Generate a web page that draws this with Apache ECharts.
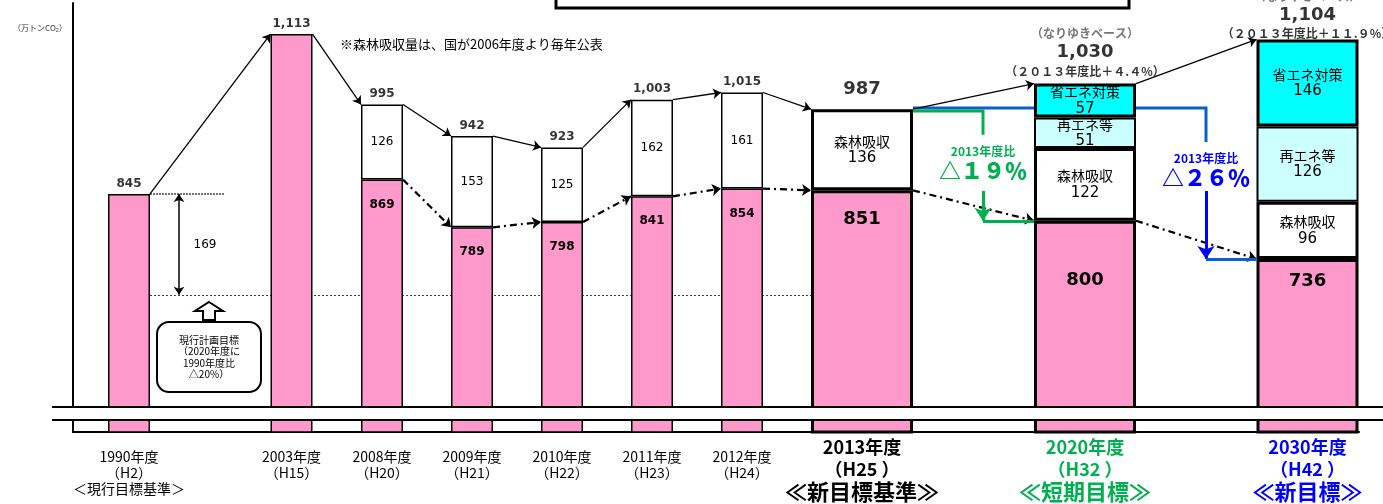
<!DOCTYPE html>
<html>
<head>
<meta charset="utf-8">
<title>温室効果ガス排出量</title>
<script src="https://cdn.jsdelivr.net/npm/echarts@6/dist/echarts.min.js"></script>
<style>
  html, body { margin: 0; padding: 0; background: #fff; }
  #chart { width: 1383px; height: 504px; }
</style>
</head>
<body>
<div id="chart"></div>
<script>
// 年度ラベル
const years = ['1990年度', '2003年度', '2008年度', '2009年度', '2010年度', '2011年度', '2012年度', '2013年度', '2020年度', '2030年度'];
const heisei = ['（H2）', '（H15）', '（H20）', '（H21）', '（H22）', '（H23）', '（H24）', '（H25 ）', '（H32 ）', '（H42 ）'];
const notes = ['＜現行目標基準＞', '', '', '', '', '', '', '≪新目標基準≫', '≪短期目標≫', '≪新目標≫'];

// 万トンCO2
const emission = [845, 1113, 869, 789, 798, 841, 854, 851, 800, 736];
const forest = [null, null, 126, 153, 125, 162, 161, 136, 122, 96];
const renewable = [null, null, null, null, null, null, null, null, 51, 126];
const saving = [null, null, null, null, null, null, null, null, 57, 146];
const target2020 = 676; // 現行計画目標（1990年度比△20%）
const pctLabels = ['＋４.４%', '＋１１.９%'];
const cutLabels = ['△１９％', '△２６％'];

// レイアウト（x軸は px 単位）
const slotX = [129, 291.5, 382, 472, 562, 652, 742, 862, 1085, 1307.5];
const wideFrom = 7;
const narrowW = 42, wideW = 102;
const pinkGap = [0, 0, 19, 19, 19, 19, 19, 20, 51, 13];

const JP = '"Noto Sans CJK JP", sans-serif';
const NUM = '"DejaVu Sans", "Noto Sans CJK JP", sans-serif';
const PINK = '#ff99cc', CYAN = '#00ffff', LCYAN = '#ccffff';
const GREEN = '#00b050', BLUE = '#0000ff';

const chart = echarts.init(document.getElementById('chart'));

const halfW = i => (i < wideFrom ? narrowW : wideW) / 2;
const edgeR = i => slotX[i] + halfW(i);
const edgeL = i => slotX[i] - halfW(i);
const total = i => emission[i] + (forest[i] || 0) + (renewable[i] || 0) + (saving[i] || 0);
const fmt = v => v.toLocaleString('en-US');
const narrowIdx = slotX.map((x, i) => i).filter(i => i < wideFrom);
const wideIdx = slotX.map((x, i) => i).filter(i => i >= wideFrom);

// 積み上げは値の次元で行うため [値, x位置] の順に並べる
function pinkData(idxs) {
  return idxs.map(i => ({
    value: [emission[i], slotX[i]],
    label: forest[i] == null ? { show: false } : {
      show: true, position: 'insideTop', distance: pinkGap[i],
      formatter: String(emission[i]),
      fontFamily: NUM, fontWeight: 'bold', color: '#000',
      fontSize: i < wideFrom ? 12 : 18
    }
  }));
}

function layerData(idxs, values, title) {
  return idxs.map(i => ({
    value: [values[i], slotX[i]],
    label: {
      show: values[i] != null, position: 'inside', color: '#000',
      formatter: i < wideFrom ? String(values[i]) : '{t|' + title + '}\n{v|' + values[i] + '}',
      fontFamily: NUM, fontSize: 12,
      rich: {
        t: { fontFamily: JP, fontSize: 14, lineHeight: 17, color: '#000' },
        v: { fontFamily: NUM, fontSize: 15, lineHeight: 17, color: '#000' }
      }
    }
  }));
}

const totalsData = slotX.map((x, i) => {
  const t = total(i);
  let label;
  if (i < wideFrom) {
    label = { formatter: fmt(t), fontSize: 12, distance: 4 };
  } else if (i === wideFrom) {
    label = { formatter: fmt(t), fontSize: 18, distance: 10 };
  } else {
    label = {
      formatter: '{nr|（なりゆきベース）}\n{tb|' + fmt(t) + '}\n{ts|（２０１３年度比' + pctLabels[i - wideFrom - 1] + '）}',
      distance: i === wideFrom + 1 ? 3 : -4
    };
  }
  return { value: [x, t], label: label };
});

const totalLinks = [];
for (let i = 0; i < slotX.length - 1; i++) {
  totalLinks.push({ coords: [[edgeR(i), total(i)], [edgeL(i + 1), total(i + 1)]] });
}
const netLinks = [];
for (let i = 2; i < slotX.length - 1; i++) {
  netLinks.push({ coords: [[edgeR(i), emission[i]], [edgeL(i + 1), emission[i + 1]]] });
}

// 削減率の矢印（x は px、縦の切れ目は値）
const base = total(wideFrom);
const xG = 983, gTop = 944, gBot = 850;
const xB = 1206, bTop = 932, bBot = 850;

function lineSeries(data, color, width, opts) {
  return Object.assign({
    type: 'lines', coordinateSystem: 'cartesian2d', xAxisIndex: 0, yAxisIndex: 0,
    data: data, symbol: 'none', silent: true,
    lineStyle: { color: color, width: width, opacity: 1, curveness: 0 }
  }, opts || {});
}

function barSeries(name, stack, axis, width, fill, border, data) {
  return {
    name: name, type: 'bar', stack: stack, xAxisIndex: axis, barWidth: width,
    encode: { x: 1, y: 0 },
    itemStyle: { color: fill, borderColor: '#000', borderWidth: border },
    data: data
  };
}

chart.setOption({
  animation: false,
  grid: { left: 73, right: 24, top: 3, bottom: 72, outerBoundsMode: 'none' },
  xAxis: [{
    type: 'value', min: 73, max: 1359,
    axisLine: { show: true, onZero: false, lineStyle: { color: '#000', width: 2 } },
    axisTick: { show: false },
    splitLine: { show: false },
    axisLabel: {
      customValues: slotX, margin: 4, verticalAlign: 'top',
      formatter: function (value) {
        const i = slotX.findIndex(x => Math.abs(x - value) < 0.01);
        if (i < 0) return '';
        if (i < wideFrom) {
          return '{sp| }\n{n|' + years[i] + '}\n{n|' + heisei[i] + '}' + (notes[i] ? '\n{n|' + notes[i] + '}' : '');
        }
        const k = ['k', 'g', 'b'][i - wideFrom];
        return '{' + k + '|' + years[i] + '}\n{' + k + '|' + heisei[i] + '}\n{' + k + '2|' + notes[i] + '}';
      },
      rich: {
        sp: { fontSize: 10, lineHeight: 13 },
        n: { fontFamily: JP, fontSize: 14, lineHeight: 16, color: '#000' },
        k: { fontFamily: JP, fontSize: 18, fontWeight: 'bold', lineHeight: 22, color: '#000' },
        k2: { fontFamily: JP, fontSize: 22, fontWeight: 'bold', lineHeight: 23, color: '#000' },
        g: { fontFamily: JP, fontSize: 18, fontWeight: 'bold', lineHeight: 22, color: GREEN },
        g2: { fontFamily: JP, fontSize: 22, fontWeight: 'bold', lineHeight: 23, color: GREEN },
        b: { fontFamily: JP, fontSize: 18, fontWeight: 'bold', lineHeight: 22, color: BLUE },
        b2: { fontFamily: JP, fontSize: 22, fontWeight: 'bold', lineHeight: 23, color: BLUE }
      }
    }
  }, {
    type: 'value', min: 73, max: 1359, show: false
  }],
  yAxis: {
    type: 'value', min: 446, max: 1165,
    axisLine: { show: true, onZero: false, lineStyle: { color: '#000', width: 2 } },
    axisTick: { show: false },
    axisLabel: { show: false },
    splitLine: { show: false }
  },
  series: [
    barSeries('排出量', 'narrow', 0, narrowW, PINK, 1.5, pinkData(narrowIdx)),
    barSeries('森林吸収', 'narrow', 0, narrowW, '#fff', 1.5, layerData(narrowIdx, forest, '森林吸収')),
    barSeries('排出量', 'wide', 1, wideW, PINK, 3, pinkData(wideIdx)),
    barSeries('森林吸収', 'wide', 1, wideW, '#fff', 3, layerData(wideIdx, forest, '森林吸収')),
    barSeries('再エネ等', 'wide', 1, wideW, LCYAN, 2, layerData(wideIdx, renewable, '再エネ等')),
    barSeries('省エネ対策', 'wide', 1, wideW, CYAN, 3, layerData(wideIdx, saving, '省エネ対策')),
    {
      name: '合計', type: 'scatter', xAxisIndex: 0, symbolSize: 1, silent: true, z: 5,
      itemStyle: { color: 'rgba(0,0,0,0)' },
      label: {
        show: true, position: 'top', color: '#000', fontFamily: NUM, fontWeight: 'bold',
        rich: {
          nr: { fontFamily: JP, fontSize: 12, color: '#555', lineHeight: 19 },
          tb: { fontFamily: NUM, fontSize: 18, fontWeight: 'bold', color: '#000', lineHeight: 19 },
          ts: { fontFamily: JP, fontSize: 12, color: '#000', lineHeight: 18 }
        }
      },
      data: totalsData
    },
    // 目標ライン（バーの背面）
    lineSeries([{ coords: [[edgeR(0), target2020], [edgeL(7), target2020]] }], '#444', 1,
      { z: 1, lineStyle: { color: '#444', width: 1, type: [2, 2], opacity: 1 } }),
    lineSeries([{ coords: [[edgeR(0), emission[0]], [225, emission[0]]] }], '#444', 1,
      { z: 1, lineStyle: { color: '#444', width: 1.5, type: [2, 1], opacity: 1 } }),
    lineSeries([{ coords: [[179, emission[0]], [179, target2020]] }], '#000', 1.5,
      { z: 3, symbol: ['arrow', 'arrow'], symbolSize: 8 }),
    // 合計の推移
    lineSeries(totalLinks, '#000', 1.3, { z: 3, symbol: ['none', 'arrow'], symbolSize: 8 }),
    // 排出量の推移
    lineSeries(netLinks, '#000', 2.2,
      { z: 3, symbol: ['none', 'arrow'], symbolSize: 9, lineStyle: { color: '#000', width: 2.2, type: [7, 4, 2, 4], opacity: 1 } }),
    // 2013年度比（緑・青）
    lineSeries([{ coords: [[edgeR(7), base + 2], [xB, base + 2], [xB, bTop]] }], '#0a5fd0', 3, { z: 1, polyline: true }),
    lineSeries([{ coords: [[edgeR(7), base - 3], [xG, base - 3], [xG, gTop]] }], GREEN, 3, { z: 3, polyline: true }),
    lineSeries([{ coords: [[xG, gBot], [xG, emission[8]]] }], GREEN, 3, { z: 3, symbol: ['none', 'arrow'], symbolSize: 13 }),
    lineSeries([{ coords: [[xG, emission[8]], [edgeL(8), emission[8]]] }], GREEN, 3, { z: 3 }),
    lineSeries([{ coords: [[xB, bBot], [xB, emission[9]]] }], BLUE, 3, { z: 3, symbol: ['none', 'arrow'], symbolSize: 13 }),
    lineSeries([{ coords: [[xB, emission[9]], [edgeL(9), emission[9]]] }], '#0a5fd0', 3, { z: 3 })
  ],
  graphic: [
    // 軸の省略
    { type: 'rect', z: 100, shape: { x: 52, y: 408, width: 1331, height: 11 }, style: { fill: '#fff' } },
    { type: 'line', z: 101, shape: { x1: 52, y1: 407, x2: 1383, y2: 407 }, style: { stroke: '#000', lineWidth: 2 } },
    { type: 'line', z: 101, shape: { x1: 52, y1: 420, x2: 1383, y2: 420 }, style: { stroke: '#000', lineWidth: 2 } },
    // 上部の枠
    { type: 'rect', z: 100, shape: { x: 556, y: -12, width: 573, height: 20 }, style: { fill: 'none', stroke: '#000', lineWidth: 3 } },
    { type: 'text', z: 100, x: 40, y: 28, style: { text: '（万トンCO₂）', fontFamily: JP, fontSize: 8, fill: '#333', align: 'center', verticalAlign: 'middle' } },
    { type: 'text', z: 100, x: 340, y: 44, style: { text: '※森林吸収量は、国が2006年度より毎年公表', fontFamily: JP, fontSize: 13, fill: '#000', verticalAlign: 'middle' } },
    { type: 'text', z: 100, x: 205, y: 245, style: { text: '169', fontFamily: NUM, fontSize: 12, fill: '#000', align: 'center', verticalAlign: 'middle' } },
    // 現行計画目標
    { type: 'polygon', z: 100, shape: { points: [[209, 302], [223, 311], [215, 311], [215, 320], [203, 320], [203, 311], [195, 311]] },
      style: { fill: '#fff', stroke: '#000', lineWidth: 2 } },
    { type: 'rect', z: 100, shape: { x: 157, y: 322, width: 104, height: 70, r: 12 }, style: { fill: '#fff', stroke: '#000', lineWidth: 2 } },
    { type: 'text', z: 101, x: 209, y: 357, style: {
      text: '現行計画目標\n（2020年度に\n1990年度比\n△20%）', fontFamily: JP, fontSize: 10, lineHeight: 11.5,
      fill: '#000', align: 'center', verticalAlign: 'middle' } },
    // 2013年度比
    { type: 'text', z: 100, x: xG, y: 151, style: { text: '2013年度比', fontFamily: JP, fontSize: 12, fontWeight: 'bold', fill: GREEN, align: 'center', verticalAlign: 'middle' } },
    { type: 'text', z: 100, x: xG, y: 171, style: { text: cutLabels[0], fontFamily: JP, fontSize: 22, fontWeight: 900, fill: GREEN, align: 'center', verticalAlign: 'middle' } },
    { type: 'text', z: 100, x: xB, y: 158, style: { text: '2013年度比', fontFamily: JP, fontSize: 12, fontWeight: 'bold', fill: BLUE, align: 'center', verticalAlign: 'middle' } },
    { type: 'text', z: 100, x: xB, y: 178, style: { text: cutLabels[1], fontFamily: JP, fontSize: 22, fontWeight: 900, fill: BLUE, align: 'center', verticalAlign: 'middle' } }
  ]
});
</script>
</body>
</html>
